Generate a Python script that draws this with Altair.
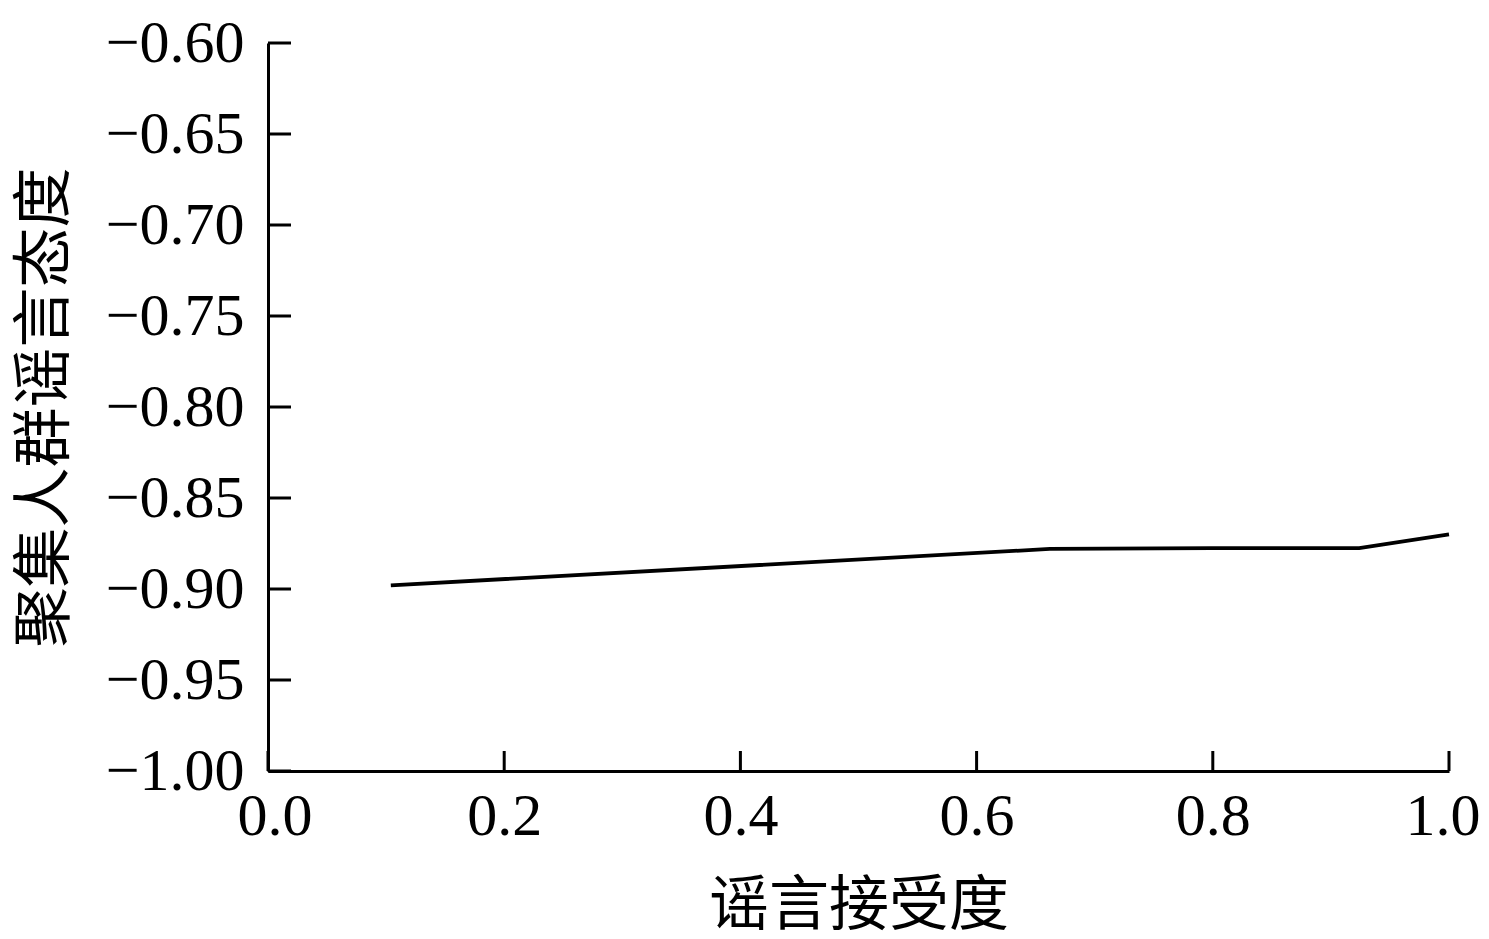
import altair as alt
import pandas as pd

# data
acceptance = [0.104, 0.662, 0.799, 0.924, 1.0]
attitude = [-0.898, -0.878, -0.8775, -0.8775, -0.870]

x_ticks = [0.0, 0.2, 0.4, 0.6, 0.8, 1.0]
y_ticks = [-0.60, -0.65, -0.70, -0.75, -0.80, -0.85, -0.90, -0.95, -1.00]

x_title = "谣言接受度"
y_title = "聚集人群谣言态度"

W, H = 1181, 728
FONT = "Liberation Serif, Times New Roman, Noto Sans CJK SC"

df = pd.DataFrame({"x": acceptance, "y": attitude})
xt = pd.DataFrame({"x": x_ticks})
yt = pd.DataFrame({"y": y_ticks})

xscale = alt.Scale(domain=[0, 1], nice=False, zero=False)
yscale = alt.Scale(domain=[-1.0, -0.6], nice=False, zero=False)

line = alt.Chart(df).mark_line(color="black", strokeWidth=3.8).encode(
    x=alt.X("x:Q", scale=xscale,
            axis=alt.Axis(values=x_ticks, format=".1f", ticks=False, title=x_title,
                          labelFontSize=60, labelFont=FONT, labelColor="black",
                          labelFlush=True, labelFlushOffset=31, labelOverlap=False,
                          labelPadding=16, titleFontSize=60, titleFont=FONT,
                          titleFontWeight="normal", titleColor="black", titlePadding=31,
                          domainColor="black", domainWidth=3, grid=False)),
    y=alt.Y("y:Q", scale=yscale,
            axis=alt.Axis(values=y_ticks, format=".2f", ticks=False, title=y_title,
                          labelFontSize=60, labelFont=FONT, labelColor="black",
                          labelFlush=False, labelOverlap=False,
                          labelPadding=24, titleFontSize=60, titleFont=FONT,
                          titleFontWeight="normal", titleColor="black", titlePadding=29,
                          domainColor="black", domainWidth=3, grid=False)),
)

xtick = alt.Chart(xt).mark_rule(color="black", strokeWidth=3).encode(
    x=alt.X("x:Q", scale=xscale), y=alt.value(H), y2=alt.value(H - 20)
)
ytick = alt.Chart(yt).mark_rule(color="black", strokeWidth=3).encode(
    y=alt.Y("y:Q", scale=yscale), x=alt.value(0), x2=alt.value(23)
)

chart = alt.layer(line, xtick, ytick).properties(
    width=W, height=H,
    autosize=alt.AutoSizeParams(type="none"),
    padding={"left": 260, "top": 35, "right": 31, "bottom": 168},
    background="white",
).configure_view(stroke=None, strokeWidth=0)

chart.save("out.html", embed_options={"renderer": "svg", "actions": False})
